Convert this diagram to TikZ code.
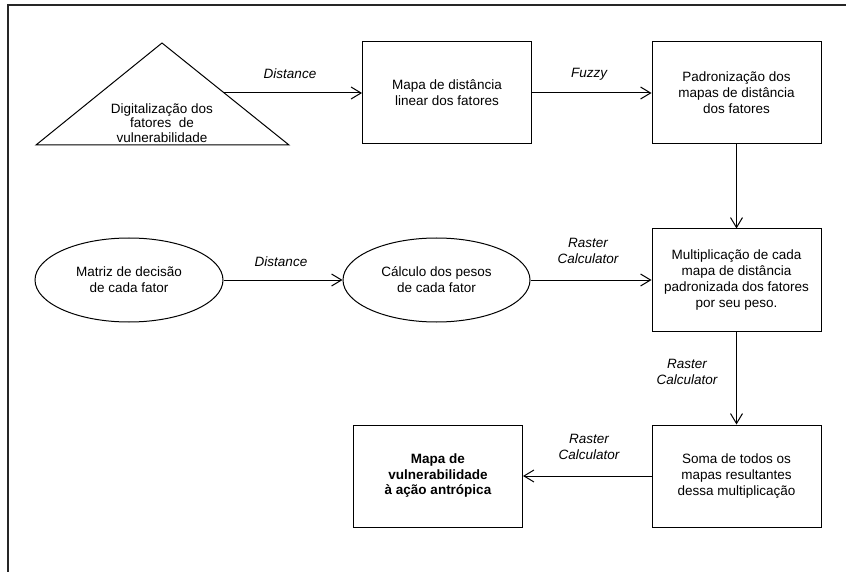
\documentclass[tikz,border=0pt]{standalone}
\usepackage{fontspec}
\setmainfont{Liberation Sans}
\usetikzlibrary{arrows.meta,shapes.geometric}
\begin{document}
\begin{tikzpicture}[x=1pt,y=-1pt,
  font=\fontsize{13.5}{16}\selectfont,
  boxnode/.style={draw,line width=1pt,minimum width=169pt,minimum height=102pt,align=center,inner sep=0pt},
  ellnode/.style={draw,ellipse,line width=1pt,minimum width=188pt,minimum height=84pt,align=center,inner sep=0pt},
  lbl/.style={font=\fontsize{13.5}{16}\selectfont\itshape,align=center,inner sep=0pt},
  arr/.style={line width=1pt,-{Straight Barb[length=10pt,width=12pt]}}]
\useasboundingbox (0,0) rectangle (846,572);
\draw[line width=1.6pt,black!85] (8,572) -- (8,5) -- (846,5);
% triangle
\draw[line width=1pt] (36,145) coordinate (triL) -- (162,43) coordinate (triTop) -- (289,145) coordinate (triB) -- cycle;
\coordinate (triR) at (224.3,93);
\node[align=center,inner sep=0pt,font=\fontsize{13.5}{14.5}\selectfont] (tri) at (162,123) {Digitalização dos\\fatores\ \ de\\vulnerabilidade};
% boxes
\node[boxnode] (box1) at (447,93) {Mapa de distância\\linear dos fatores};
\node[boxnode] (box3) at (736.5,93) {Padronização dos\\mapas de distância\\dos fatores};
\node[boxnode] (box4) at (736.5,280) {Multiplicação de cada\\mapa de distância\\padronizada dos fatores\\por seu peso.};
\node[boxnode] (box5) at (736.5,476) {Soma de todos os\\mapas resultantes\\dessa multiplicação};
\node[boxnode,font=\fontsize{13.5}{15.5}\selectfont\bfseries] (box6) at (438,476) {Mapa de\\vulnerabilidade\\à ação antrópica};
\node[ellnode] (ell1) at (129,280) {Matriz de decisão\\de cada fator};
\node[ellnode,minimum width=187pt] (ell2) at (436.5,280) {Cálculo dos pesos\\de cada fator};
% labels
\node[lbl] (l1) at (290,74) {Distance};
\node[lbl] (l2) at (589,74) {Fuzzy};
\node[lbl] (l3) at (281,262) {Distance};
\node[lbl] (l4) at (588,251) {Raster\\Calculator};
\node[lbl] (l5) at (687,372) {Raster\\Calculator};
\node[lbl] (l6) at (589,447) {Raster\\Calculator};
% connectors
\draw[arr] (triR) -- (box1.west);
\draw[arr] (box1) -- (box3);
\draw[arr] (box3) -- (box4);
\draw[arr] (ell1) -- (ell2);
\draw[arr] (ell2) -- (box4);
\draw[arr] (box4) -- (box5);
\draw[arr] (box5) -- (box6);
\end{tikzpicture}
\end{document}
